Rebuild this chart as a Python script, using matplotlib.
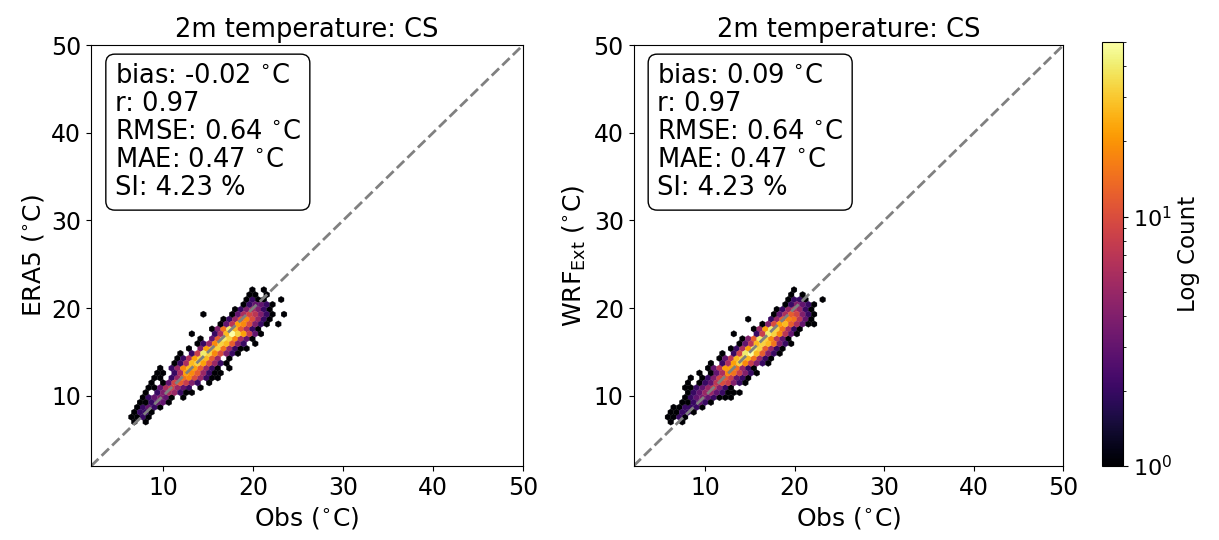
import numpy as np
import matplotlib
matplotlib.use("Agg")
import matplotlib.pyplot as plt
from matplotlib.colors import LogNorm

# ---------------------------------------------------------------- labels
TITLE = "2m temperature: CS"
X_LABEL = r"Obs ($^{\circ}$C)"
Y_LABELS = [r"ERA5 ($^{\circ}$C)", r"WRF$_{\rm Ext}$ ($^{\circ}$C)"]
TICKS = [10, 20, 30, 40, 50]
AXIS_RANGE = (2, 50)

# ---------------------------------------------------------------- scores
BIAS = [-0.02, 0.09]
CORR = [0.97, 0.97]
RMSE = [0.64, 0.64]
MAE = [0.47, 0.47]
SI = [4.23, 4.23]

# ---------------------------------------------------------------- hexbin counts
# Count map on the hexagon lattice: (row k, first column i, one code per cell).
# Row k sits at y = lo + k*sy/2; odd rows are shifted by half a cell in x.
GRIDSIZE = 75
COUNT_CODES = {str(d): d for d in range(1, 10)}
COUNT_CODES.update(a=10, b=12, c=15, d=18, e=22, f=27, g=33, h=40, i=50)

ERA5_ROWS = [
    (36, 28, "1.1"),
    (35, 27, "11.1"),
    (34, 27, "1211..1"),
    (33, 26, "123321"),
    (32, 25, "1246421"),
    (31, 19, "1....13697421.1"),
    (30, 23, "125bda521"),
    (29, 22, "137eda421.1"),
    (28, 21, "14chfb621"),
    (27, 17, "1...26fige831"),
    (26, 19, "1.3bhgd631"),
    (25, 18, "125dgfb42.1"),
    (24, 17, "1.4efgc5211"),
    (23, 15, "1.28hgda421"),
    (22, 15, "126egfb5.1"),
    (21, 14, "126fgea521"),
    (20, 12, "1.25dfeb521.1"),
    (19, 11, "11.26edb5211"),
    (18, 11, "11.25cda5211"),
    (17, 10, "1.139b842.1"),
    (16, 10, "11369532.1"),
    (15, 9, "1.2465211"),
    (14, 9, "123431.1"),
    (13, 8, "112331"),
    (12, 8, "12321"),
    (11, 7, "1221"),
    (10, 7, "1121"),
    (9, 7, "1.1"),
]

WRF_ROWS = [
    (36, 28, "1"),
    (35, 27, "1.1"),
    (34, 27, "1221..1"),
    (33, 26, "124321"),
    (32, 25, "1257521"),
    (31, 24, "136b9421"),
    (30, 20, "1...25bdc731"),
    (29, 22, "14aefb6311"),
    (28, 21, "15ehgc621"),
    (27, 17, "1...28hgd731"),
    (26, 19, "14bhgd731"),
    (25, 18, "137fgfc421"),
    (24, 17, "126ehgb521"),
    (23, 15, "1.29hifb421"),
    (22, 15, "137fgfc521"),
    (21, 13, "1.26egd8421"),
    (20, 13, "137eec521"),
    (19, 11, "1.136dc8421"),
    (18, 10, "1.1249b8321"),
    (17, 9, "1.1237a8421"),
    (16, 9, "112358421"),
    (15, 9, "1235532111"),
    (14, 9, "123432111"),
    (13, 8, "112321"),
    (12, 7, "112221"),
    (11, 6, "11221"),
    (10, 6, "1121"),
    (9, 6, "1.1"),
]


def lattice_cells(rows, lo, hi, gridsize):
    """Turn the coded rows into hexagon centres and their counts."""
    sx = (hi - lo) / gridsize
    sy = (hi - lo) / int(gridsize / np.sqrt(3))
    xs, ys, cs = [], [], []
    for k, i0, codes in rows:
        shift = 0.5 * (k % 2)
        for n, ch in enumerate(codes):
            if ch == ".":
                continue
            xs.append(lo + (i0 + n + shift) * sx)
            ys.append(lo + k * sy / 2.0)
            cs.append(COUNT_CODES[ch])
    return np.array(xs), np.array(ys), np.array(cs, dtype=float)


plt.rcParams["font.family"] = ["DejaVu Sans"]
FS_TITLE = 18.5
FS_LABEL = 18
FS_TICK = 17
FS_BOX = 18.5

fig = plt.figure(figsize=(12.19, 5.40), dpi=100)
ax_l = fig.add_axes([0.0747, 0.137, 0.3544, 0.7796])
ax_r = fig.add_axes([0.5197, 0.137, 0.3527, 0.7796])
cax = fig.add_axes([0.9040, 0.137, 0.0172, 0.7850])

lo, hi = AXIS_RANGE
all_counts = [lattice_cells(r, lo, hi, GRIDSIZE)[2] for r in (ERA5_ROWS, WRF_ROWS)]
norm = LogNorm(vmin=1, vmax=max(c.max() for c in all_counts))

hb = None
for idx, (ax, rows) in enumerate(zip((ax_l, ax_r), (ERA5_ROWS, WRF_ROWS))):
    x, y, c = lattice_cells(rows, lo, hi, GRIDSIZE)
    hb = ax.hexbin(x, y, C=c, reduce_C_function=np.sum, gridsize=GRIDSIZE,
                   extent=(lo, hi, lo, hi), cmap="inferno", norm=norm,
                   linewidths=0.2, edgecolors="face")
    ax.plot([lo, hi], [lo, hi], ls="--", color="gray", lw=2)
    ax.set_xlim(lo, hi)
    ax.set_ylim(lo, hi)
    ax.set_xticks(TICKS)
    ax.set_yticks(TICKS)
    ax.tick_params(labelsize=FS_TICK)
    ax.set_title(TITLE, fontsize=FS_TITLE)
    ax.set_xlabel(X_LABEL, fontsize=FS_LABEL)
    ax.set_ylabel(Y_LABELS[idx], fontsize=FS_LABEL)
    stats = (f"bias: {BIAS[idx]:.2f} $^{{\\circ}}$C\n"
             f"r: {CORR[idx]:.2f}\n"
             f"RMSE: {RMSE[idx]:.2f} $^{{\\circ}}$C\n"
             f"MAE: {MAE[idx]:.2f} $^{{\\circ}}$C\n"
             f"SI: {SI[idx]:.2f} %")
    ax.text(0.055, 0.957, stats, transform=ax.transAxes, fontsize=FS_BOX,
            va="top", ha="left", linespacing=1.1,
            bbox=dict(boxstyle="round,pad=0.35", facecolor="white",
                      edgecolor="black"))

cb = fig.colorbar(hb, cax=cax)
cb.set_label("Log Count", fontsize=16.5)
cb.ax.tick_params(labelsize=16)

fig.savefig("out.png", dpi=100)
